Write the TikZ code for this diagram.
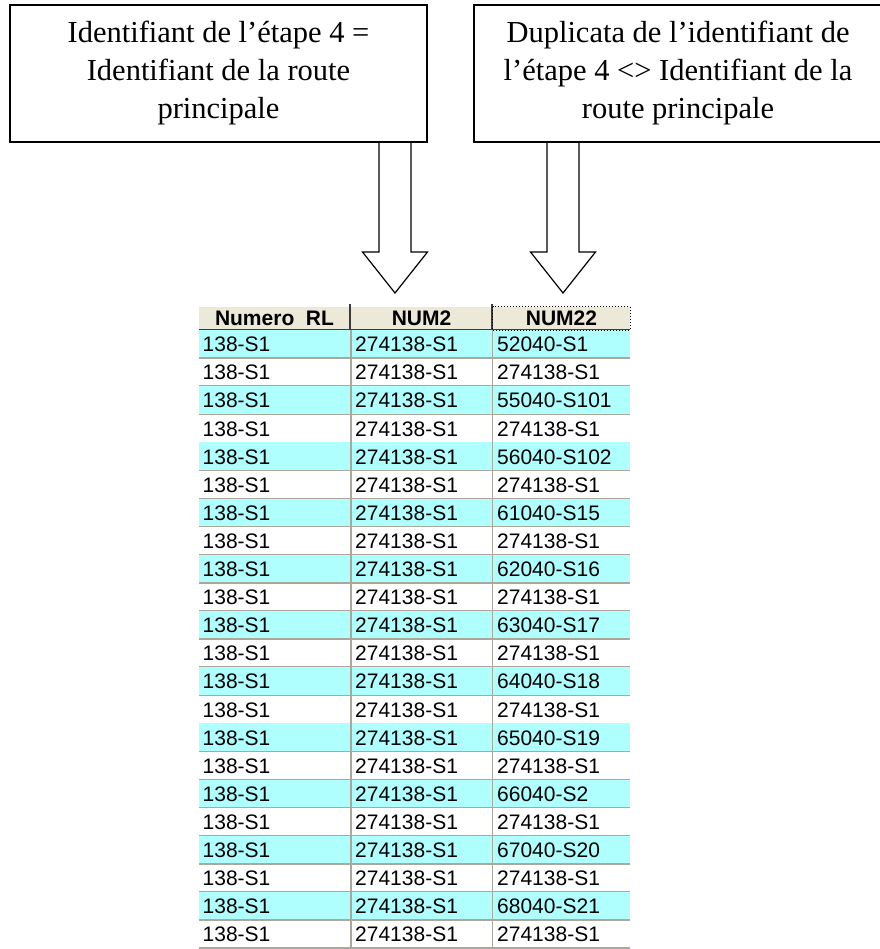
\documentclass[tikz,border=0pt]{standalone}
\usepackage{fontspec}
\setmainfont{Liberation Serif}
\newfontfamily\gridfont{Liberation Sans}
\usetikzlibrary{calc}

\definecolor{rowcyan}{RGB}{176,255,255}
\definecolor{headbeige}{RGB}{236,233,216}
\definecolor{gridgray}{RGB}{172,168,153}
\definecolor{headdark}{RGB}{60,60,60}

\tikzset{
	notebox/.style={draw, line width=1.2pt, align=center, inner sep=0pt,
		minimum height=137pt, font=\fontsize{30.5}{38}\selectfont},
	bigarrow/.style={draw, line width=1.2pt, line join=miter},
	headcell/.style={fill=headbeige, inner sep=0pt, minimum height=23pt,
		font=\gridfont\bfseries\fontsize{21}{24}\selectfont},
	datacell/.style={anchor=west, inner sep=0pt, font=\gridfont\fontsize{21}{24}\selectfont},
	gridline/.style={draw=gridgray, line width=1.5pt},
	headline/.style={draw=headdark, line width=1.6pt}
}

% block arrow: #1 tail on the box, #2 tip
\newcommand{\blockarrow}[2]{%
	\draw[bigarrow] ($(#1)+(-16,0)$) -- ($(#2)+(-16,-41)$) -- ($(#2)+(-32.5,-41)$) -- (#2)
	-- ($(#2)+(32.5,-41)$) -- ($(#2)+(16,-41)$) -- ($(#1)+(16,0)$);}

\begin{document}
\begin{tikzpicture}[x=1pt, y=-1pt]
	\useasboundingbox (0,0) rectangle (879,949);
	
	% Define nodes
	\node[notebox, minimum width=417pt] (boxA) at (218.5,73.5) {Identifiant de l’étape 4 =\\
		Identifiant de la route\\ principale}; \node[notebox, minimum width=408pt] (boxB) at
	(678,73.5) {Duplicata de l’identifiant de\\ l’étape 4 <> Identifiant de la\\ route
		principale};
	
	\node[headcell, minimum width=151pt] (hA) at (274.5,318.5) {Numero\ \ RL};
	\node[headcell, minimum width=141pt] (hB) at (421.5,318.5) {NUM2};
	\node[headcell, minimum width=137pt] (hC) at (561.5,318.5) {NUM22};
	
	% Draw rows
	\foreach \num [count=\k] in {52040-S1, 274138-S1, 55040-S101, 274138-S1, 56040-S102,
		274138-S1, 61040-S15, 274138-S1, 62040-S16, 274138-S1, 63040-S17, 274138-S1,
		64040-S18, 274138-S1, 65040-S19, 274138-S1, 66040-S2, 274138-S1, 67040-S20,
		274138-S1, 68040-S21, 274138-S1} {
		\pgfmathsetmacro\rowtop{330+(\k-1)*28.1}
		\ifodd\k \fill[rowcyan] (199,\rowtop) rectangle (630,\rowtop+28.1); \fi
		\draw[gridline] (199,\rowtop+28.1) -- (630,\rowtop+28.1);
		\node[datacell] (rA\k) at (202.5,\rowtop+14.5) {138-S1};
		\node[datacell] (rB\k) at (355,\rowtop+14.5) {274138-S1};
		\node[datacell] (rC\k) at (497,\rowtop+14.5) {\num};
	}
	\draw[gridline] (351,330) -- (351,949); \draw[gridline] (492.5,330) -- (492.5,949);
	
	% Header lines
	\draw[headline] (199,329.5) -- (630,329.5); \draw[headline] (350,304) -- (350,330);
	\draw[headline] (492,304) -- (492,330);
	\draw[dotted, line width=1pt] (hC.north west) rectangle (hC.south east);
	
	% Draw edges
	\coordinate (tipA) at (395,293); \coordinate (tipB) at (563,293);
	\coordinate (tailA) at (boxA.south -| tipA); \coordinate (tailB) at (boxB.south -| tipB);
	\blockarrow{tailA}{tipA} \blockarrow{tailB}{tipB}
\end{tikzpicture}
\end{document}
